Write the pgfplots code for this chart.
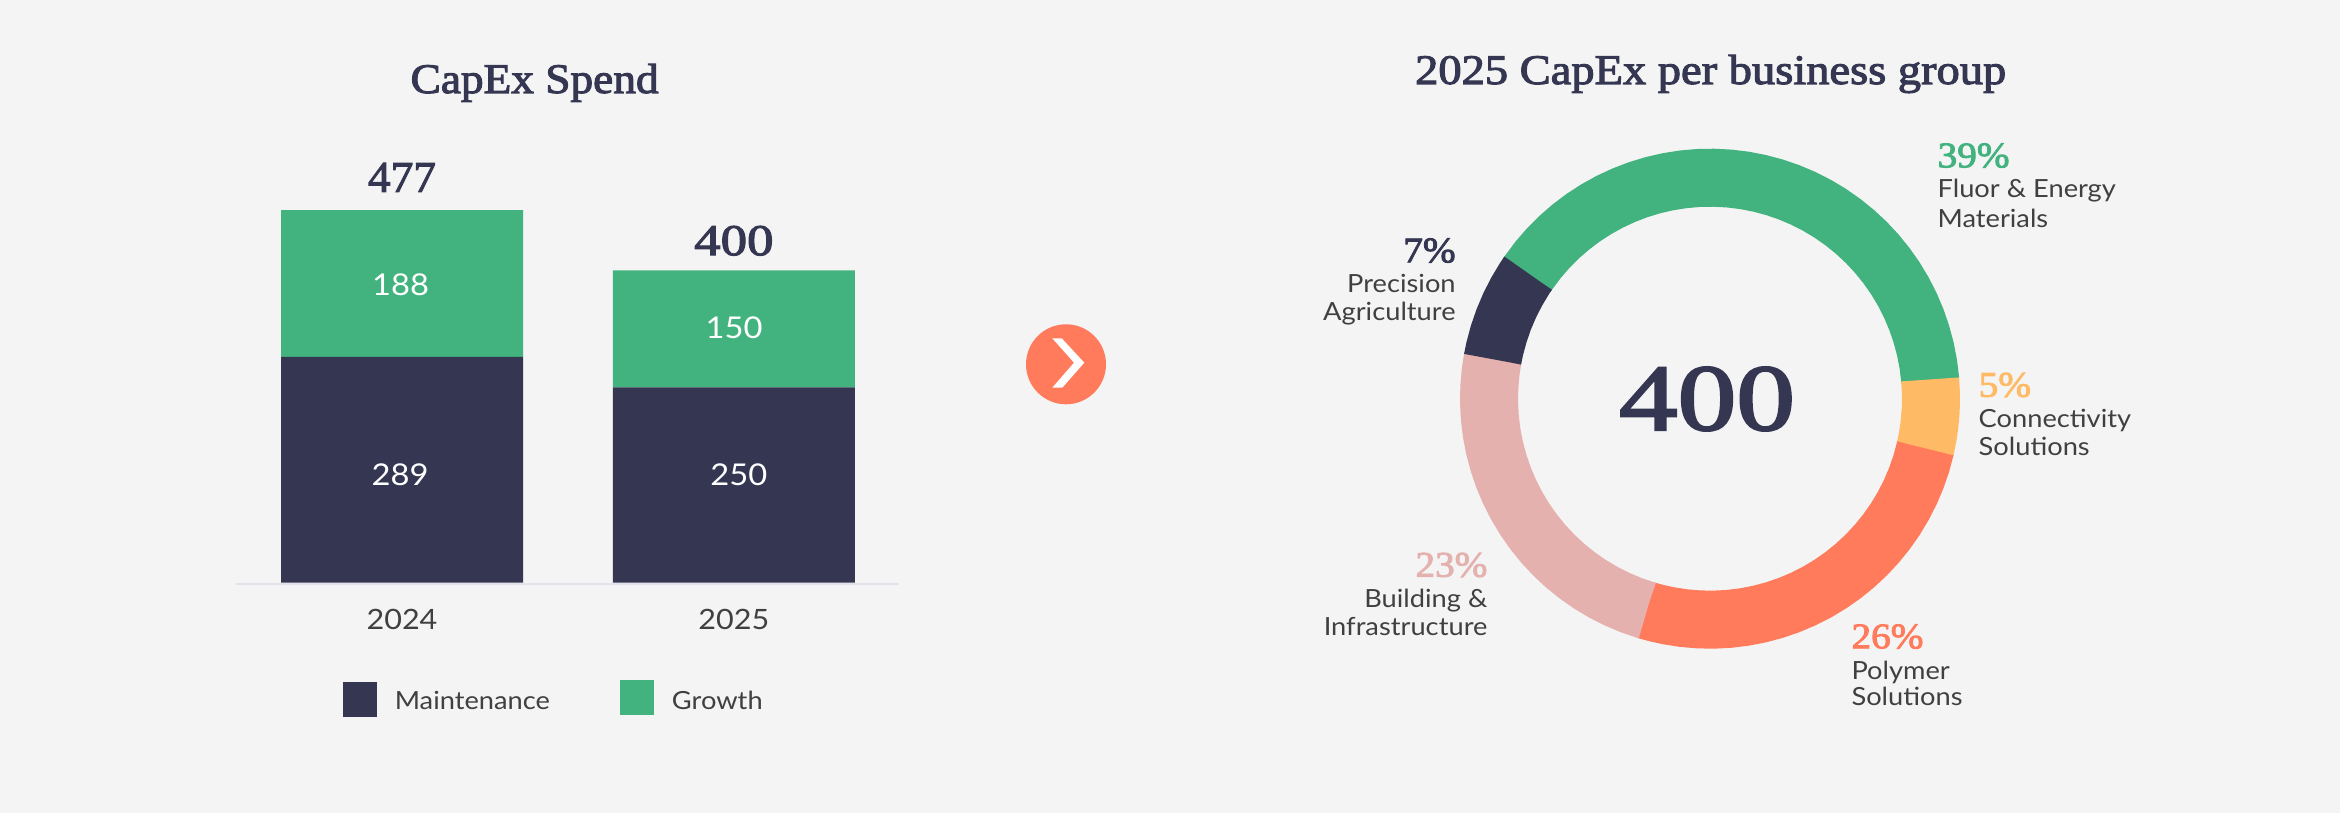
\documentclass[border=0pt]{standalone}
\usepackage{pgfplots}
\pgfplotsset{compat=1.18}
\usepgfplotslibrary{polar}
\usepackage{fontspec}
\setmainfont{Lato}[FakeStretch=1.09]
\newfontfamily\serifb{Liberation Serif}[FakeBold=2.5,FakeStretch=1.09]
\newfontfamily\serifc{Liberation Serif}[FakeBold=2.2]
\definecolor{bgc}{HTML}{F4F4F4}
\definecolor{navy}{HTML}{353651}
\definecolor{grn}{HTML}{42B37E}
\definecolor{org}{HTML}{FF7B5C}
\definecolor{pnk}{HTML}{E4B1AE}
\definecolor{yel}{HTML}{FFBA66}
\definecolor{txt}{HTML}{404040}
\definecolor{axl}{HTML}{E2E2EA}
\newcommand{\lab}[1]{\fontsize{25}{28}\selectfont\color{txt}#1}
\newcommand{\pct}[2]{\fontsize{36}{36}\selectfont\serifb\color{#1}#2}
\begin{document}
\begin{tikzpicture}[x=1pt,y=1pt]
\useasboundingbox (0,0) rectangle (2340,813);
\fill[bgc] (0,0) rectangle (2340,813);
% titles
\node[anchor=base,inner sep=0,text=navy] at (534.6,720) {\fontsize{42}{42}\selectfont\serifb\scalebox{0.99}[1]{CapEx Spend}};
\node[anchor=base,inner sep=0,text=navy] at (1710.7,729) {\fontsize{42}{42}\selectfont\serifb\scalebox{1.015}[1]{2025 CapEx per business group}};
% bars
\begin{axis}[
  at={(235.8pt,229.3pt)},anchor=south west,
  scale only axis,width=663.2pt,height=391.5pt,
  ybar stacked,bar width=242pt,
  xmin=-0.5008,xmax=1.4975,ymin=-1.3,ymax=500,
  clip=false,
  axis y line=none,
  axis x line=bottom,
  x axis line style={draw=axl,line width=2pt,-},
  xtick={0,1},xticklabels={2024,2025},
  major tick length=0pt,
  xticklabel style={font=\fontsize{28}{28}\selectfont,text=txt,yshift=-22pt},
  legend columns=2,
  legend cell align=left,
  legend style={draw=none,fill=none,at={(axis description cs:0.1613,-0.293)},anchor=west,
    inner sep=0pt,outer sep=0pt,font=\fontsize{25}{28}\selectfont,text=txt,
    nodes={inner sep=0pt},
    /tikz/every even column/.append style={column sep=70pt},
    /tikz/every odd column/.append style={column sep=18pt}},
  after end axis/.code={
    \node[text=white,font=\fontsize{30}{30}\selectfont] at (axis cs:-0.006,137.9) {289};
    \node[text=white,font=\fontsize{30}{30}\selectfont] at (axis cs:-0.004,381) {188};
    \node[text=white,font=\fontsize{30}{30}\selectfont] at (axis cs:1.015,137.9) {250};
    \node[text=white,font=\fontsize{30}{30}\selectfont] at (axis cs:1.0006,326) {150};
    \node[text=navy,font=\fontsize{44}{44}\selectfont\serifc] at (axis cs:0,519) {\scalebox{1.03}[1]{477}};
    \node[text=navy,font=\fontsize{44}{44}\selectfont\serifc] at (axis cs:1,437.8) {\scalebox{1.2}[1]{400}};
  },
]
\addplot[fill=navy,draw=none,legend image code/.code={\fill[navy] (0pt,-15.5pt) rectangle (34pt,19.2pt);}] coordinates {(0,289) (1,250)};
\addplot[fill=grn,draw=none,legend image code/.code={\fill[grn] (0pt,-13.5pt) rectangle (34pt,21.5pt);}] coordinates {(0,188) (1,150)};
\legend{Maintenance,Growth}
\end{axis}
% arrow
\fill[org] (1066,448.7) circle (40);
\fill[white] (1052.3,474.7)--(1061.7,474.7)--(1084.3,450.3)--(1062.3,425.3)--(1052.3,425.3)--(1074,450.3)--cycle;
% donut
\begin{polaraxis}[
  at={(1710pt,414.3pt)},anchor=center,
  scale only axis,width=500pt,height=500pt,
  xmin=0,xmax=360,ymin=0,ymax=250,
  hide axis,clip=false,
]
\addplot[draw=grn,line width=58pt,line cap=butt,no markers] coordinates {(145.8,221)(145.6,221)(141,221)(137,221)(133,221)(129,221)(125,221)(121,221)(117,221)(113,221)(109,221)(105,221)(101,221)(97,221)(93,221)(89,221)(85,221)(81,221)(77,221)(73,221)(69,221)(65,221)(61,221)(57,221)(53,221)(49,221)(45,221)(41,221)(37,221)(33,221)(29,221)(25,221)(21,221)(17,221)(13,221)(9,221)(4.9,221)(4.7,221)};
\addplot[draw=yel,line width=58pt,line cap=butt,no markers] coordinates {(5,221)(4.9,221)(1,221)(357,221)(353,221)(350,221)(346.9,221)(346.7,221)};
\addplot[draw=org,line width=58pt,line cap=butt,no markers] coordinates {(347,221)(346.9,221)(343,221)(339,221)(335,221)(331,221)(327,221)(323,221)(319,221)(315,221)(311,221)(307,221)(303,221)(299,221)(295,221)(291,221)(287,221)(283,221)(279,221)(275,221)(271,221)(267,221)(263,221)(259,221)(256,221)(253.3,221)(253.1,221)};
\addplot[draw=pnk,line width=58pt,line cap=butt,no markers] coordinates {(253.4,221)(253.3,221)(249,221)(245,221)(241,221)(237,221)(233,221)(229,221)(225,221)(221,221)(217,221)(213,221)(209,221)(205,221)(201,221)(197,221)(193,221)(189,221)(185,221)(181,221)(177,221)(173,221)(169.6,221)(169.4,221)};
\addplot[draw=navy,line width=58pt,line cap=butt,no markers] coordinates {(169.7,221)(169.6,221)(167,221)(163,221)(159,221)(155,221)(151,221)(147,221)(145.5,221)(145.4,221)};
\end{polaraxis}
% centre value
\node[inner sep=0,text=navy] at (1707,414) {\resizebox{176pt}{63pt}{\serifc 400}};
% donut labels
\node[anchor=base west,inner sep=0] at (1937.4,645.7) {\pct{grn}{39\%}};
\node[anchor=base west,inner sep=0] at (1937.4,615.3) {\lab{Fluor \& Energy}};
\node[anchor=base west,inner sep=0] at (1937.4,585.3) {\lab{Materials}};
\node[anchor=base east,inner sep=0] at (1455.8,550.7) {\pct{navy}{7\%}};
\node[anchor=base east,inner sep=0] at (1455.8,520.3) {\lab{Precision}};
\node[anchor=base east,inner sep=0] at (1455.8,492) {\lab{Agriculture}};
\node[anchor=base west,inner sep=0] at (1978.5,416.3) {\pct{yel}{5\%}};
\node[anchor=base west,inner sep=0] at (1978.5,385.3) {\lab{Connectivity}};
\node[anchor=base west,inner sep=0] at (1978.5,357) {\lab{Solutions}};
\node[anchor=base east,inner sep=0] at (1487.6,236.3) {\pct{pnk}{23\%}};
\node[anchor=base east,inner sep=0] at (1487.6,205.3) {\lab{Building \&}};
\node[anchor=base east,inner sep=0] at (1487.6,177) {\lab{Infrastructure}};
\node[anchor=base west,inner sep=0] at (1851.3,164.7) {\pct{org}{26\%}};
\node[anchor=base west,inner sep=0] at (1851.3,133.7) {\lab{Polymer}};
\node[anchor=base west,inner sep=0] at (1851.3,107) {\lab{Solutions}};
\end{tikzpicture}
\end{document}
